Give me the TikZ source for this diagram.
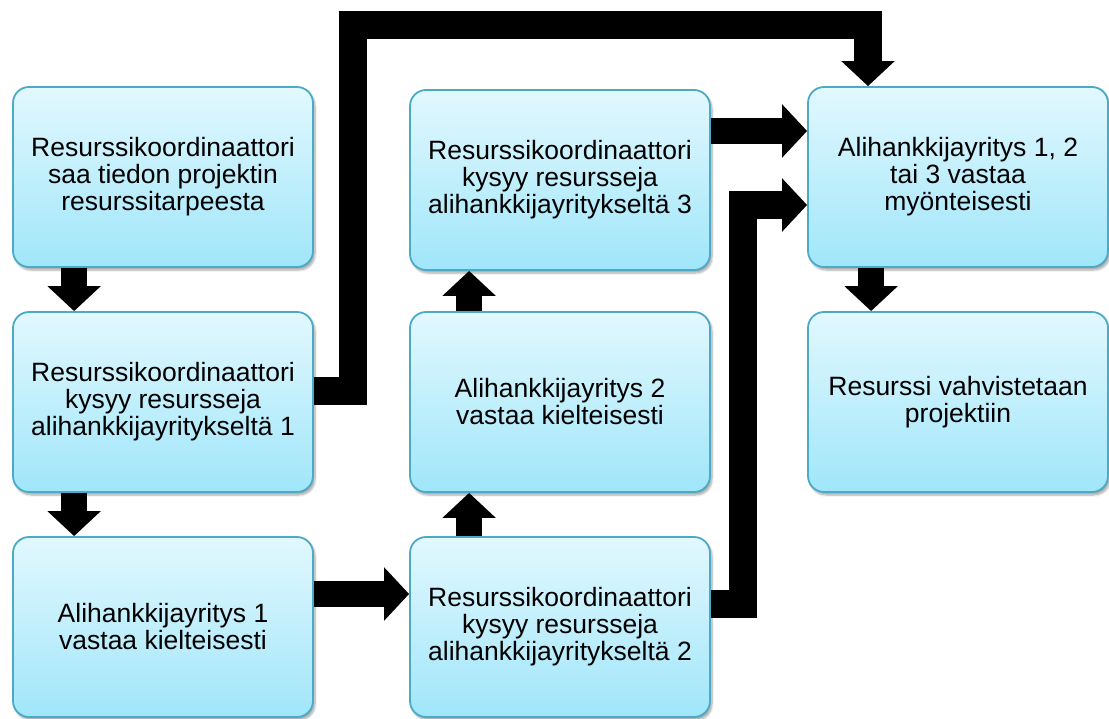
\documentclass[tikz,border=0pt]{standalone}
\usepackage{fontspec}
\setmainfont{Liberation Sans}
\usetikzlibrary{arrows.meta,calc,shadows.blur}
\definecolor{boxtop}{RGB}{226,248,254}
\definecolor{boxbot}{RGB}{160,230,250}
\definecolor{boxline}{RGB}{75,170,198}
\begin{document}
\begin{tikzpicture}[x=1pt,y=-1pt,
  flowbox/.style={draw=boxline, line width=1.8pt, rounded corners=16pt,
    top color=boxtop, bottom color=boxbot,
    minimum width=300pt, minimum height=180pt, inner sep=0pt,
    align=center, font=\fontsize{26.5pt}{27pt}\selectfont,
    blur shadow={shadow xshift=2pt, shadow yshift=-3pt, shadow blur steps=6, shadow opacity=35}},
  blockarrow/.style={line width=26pt, line join=miter,
    -{Triangle[width=52pt,length=25pt]}},
  elbowarrow/.style={line width=28pt, line join=miter,
    -{Triangle[width=52pt,length=25pt]}}
]
\useasboundingbox (0,0) rectangle (1109,718);
\node[flowbox] (A) at (163,177) {Resurssikoordinaattori\\saa tiedon projektin\\resurssitarpeesta};
\node[flowbox] (B) at (163,402) {Resurssikoordinaattori\\kysyy resursseja\\alihankkijayritykseltä 1};
\node[flowbox] (C) at (163,627) {Alihankkijayritys 1\\vastaa kielteisesti};
\node[flowbox] (D) at (560,180) {Resurssikoordinaattori\\kysyy resursseja\\alihankkijayritykseltä 3};
\node[flowbox] (E) at (560,402) {Alihankkijayritys 2\\vastaa kielteisesti};
\node[flowbox] (F) at (560,627) {Resurssikoordinaattori\\kysyy resursseja\\alihankkijayritykseltä 2};
\node[flowbox] (G) at (958,177) {Alihankkijayritys 1, 2\\tai 3 vastaa\\myönteisesti};
\node[flowbox] (H) at (958,402) {Resurssi vahvistetaan\\projektiin};

\draw[blockarrow] ($(A.south west)+(62,0)$) -- ($(B.north west)+(62,0)$);
\draw[blockarrow] ($(B.south west)+(62,0)$) -- ($(C.north west)+(62,0)$);
\draw[blockarrow] ($(C.east)+(0,-33)$) -- ($(F.west)+(0,-33)$);
\draw[blockarrow] ($(F.north west)+(60,0)$) -- ($(E.south west)+(60,0)$);
\draw[blockarrow] ($(E.north west)+(60,0)$) -- ($(D.south west)+(60,0)$);
\draw[blockarrow] ($(D.east)+(0,-49)$) -- ($(G.west)+(0,-46)$);
\draw[blockarrow] ($(G.south west)+(64,0)$) -- ($(H.north west)+(64,0)$);
\draw[elbowarrow] ($(F.east)+(0,-23)$) -- ++(32,0) |- ($(G.west)+(0,28)$);
\draw[elbowarrow] ($(B.east)+(0,-11)$) -- ++(39,0) |- ($(G.north)+(-90,-61)$) -- ($(G.north)+(-90,0)$);
\end{tikzpicture}
\end{document}
